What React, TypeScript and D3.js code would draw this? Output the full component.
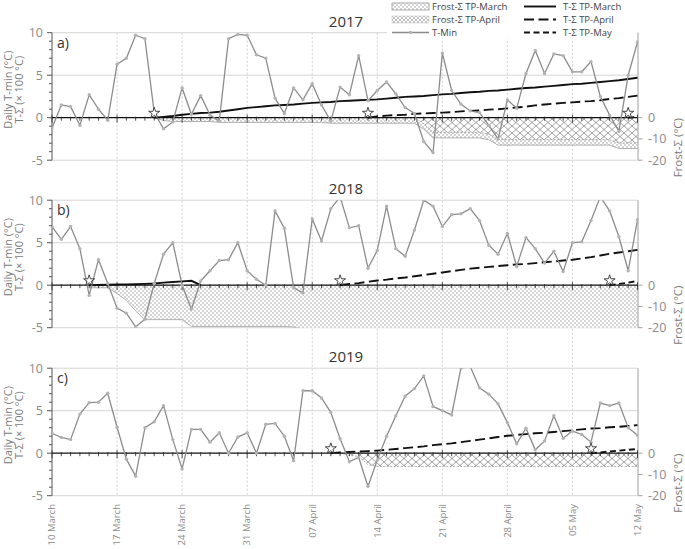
import React from 'react';
import * as d3 from 'd3';

// ---------- DATA ----------
const dateLabels = ['10 March', '17 March', '24 March', '31 March', '07 April', '14 April', '21 April', '28 April', '05 May', '12 May'];
const dateLabelDays = [0, 7, 14, 21, 28, 35, 42, 49, 56, 63];
const years = ['2017', '2018', '2019'];
const panelLetters = ['a)', 'b)', 'c)'];
const leftTicks = [10, 5, 0, -5];
const rightTicks = [0, -10, -20];

// Daily T-min (°C), 10 March .. 12 May (64 days)
const tmin2017 = [
  -1.2, 1.5, 1.3, -0.9, 2.7, 1.0, -0.3, 6.3, 7.0, 9.7,
  9.3, 0.6, -1.3, -0.5, 3.5, 0.4, 2.6, 0.3, -0.4, 9.3,
  9.8, 9.7, 7.4, 7.0, 2.3, 0.5, 3.5, 2.1, 4.0, 1.5,
  -0.4, 3.6, 2.7, 7.3, 2.0, 3.2, 4.2, 2.8, 1.2, 0.5,
  -2.8, -4.1, 7.6, 3.2, 1.6, 0.8, 0.6, -0.9, -2.5, 2.1,
  1.1, 5.2, 7.9, 5.2, 7.5, 7.3, 5.4, 5.4, 6.6, 2.5,
  0.3, -1.6, 5.0, 8.9,
];
const tmin2018 = [
  6.9, 5.4, 6.9, 4.3, -1.2, 3.0, 0.2, -2.7, -3.3, -4.9,
  -4.0, 0.2, 3.65, 5.0, 0.0, -2.8, 0.5, 1.7, 2.9, 3.0,
  5.0, 1.7, 0.7, 0.0, 8.75, 6.7, -0.3, -0.9, 7.8, 5.2,
  9.0, 10.4, 6.75, 7.0, 2.0, 4.1, 9.3, 4.3, 3.4, 6.5,
  10.0, 9.3, 6.9, 8.3, 8.4, 9.0, 7.6, 4.7, 3.65, 6.1,
  2.2, 5.6, 4.3, 2.6, 4.0, 1.6, 5.0, 5.1, 7.6, 10.4,
  8.75, 5.7, 1.7, 7.7,
];
const tmin2019 = [
  2.35, 1.85, 1.6, 4.6, 5.95, 6.0, 7.05, 3.05, -0.7, -2.7,
  3.0, 3.7, 5.6, 1.6, -1.85, 2.8, 2.8, 1.3, 2.4, 0.0,
  1.9, 2.4, 0.0, 3.4, 3.5, 2.0, -0.9, 7.35, 7.35, 6.5,
  4.8, 1.7, -1.0, -0.5, -3.9, -0.8, 2.0, 4.4, 6.7, 7.6,
  9.1, 5.5, 5.0, 4.5, 10.0, 10.2, 7.7, 6.95, 5.8, 3.6,
  1.1, 2.95, 0.4, 1.45, 4.4, 1.75, 2.6, 2.2, 1.3, 5.9,
  5.6, 5.9, 3.0, 2.1,
];

// Start day (index from 10 March) of each TP: [March, April, May]; -1 = none
const starts2017 = [11, 34, 62];
const starts2018 = [4, 31, 60];
const starts2019 = [-1, 30, 58];

// T-Σ (× 100 °C), from the TP start day onwards
const tsumMarch2017 = [
  0, 0.1, 0.2, 0.35, 0.45, 0.55, 0.6, 0.7, 0.85, 1.0,
  1.15, 1.25, 1.35, 1.45, 1.5, 1.55, 1.65, 1.75, 1.8, 1.85,
  1.95, 2.0, 2.05, 2.1, 2.15, 2.25, 2.35, 2.45, 2.5, 2.55,
  2.65, 2.75, 2.8, 2.9, 3.0, 3.05, 3.15, 3.2, 3.3, 3.4,
  3.5, 3.55, 3.65, 3.75, 3.85, 3.95, 4.0, 4.1, 4.2, 4.3,
  4.4, 4.55, 4.7,
];
const tsumApril2017 = [
  0, 0.15, 0.25, 0.3, 0.35, 0.45, 0.5, 0.55, 0.6, 0.65,
  0.75, 0.8, 0.85, 0.95, 1.0, 1.1, 1.2, 1.3, 1.45, 1.55,
  1.65, 1.75, 1.8, 1.9, 1.95, 2.05, 2.2, 2.3, 2.45, 2.6,
];
const tsumMay2017 = [0, 0.1];

const tsumMarch2018 = [0, 0.02, 0.05, 0.08, 0.1, 0.12, 0.15, 0.2, 0.3, 0.38, 0.45, 0.52, 0];
const tsumApril2018 = [
  0, 0.15, 0.25, 0.4, 0.55, 0.65, 0.8, 0.9, 1.05, 1.2,
  1.35, 1.5, 1.65, 1.8, 1.95, 2.05, 2.15, 2.25, 2.35, 2.45,
  2.5, 2.6, 2.7, 2.8, 2.9, 3.0, 3.15, 3.3, 3.5, 3.7,
  3.85, 4.0, 4.15,
];
const tsumMay2018 = [0, 0.15, 0.3, 0.5];

const tsumMarch2019: number[] = [];
const tsumApril2019 = [
  0, 0.1, 0.15, 0.2, 0.25, 0.3, 0.4, 0.5, 0.6, 0.7,
  0.8, 0.95, 1.05, 1.15, 1.3, 1.45, 1.6, 1.75, 1.9, 2.05,
  2.15, 2.25, 2.35, 2.4, 2.5, 2.6, 2.7, 2.8, 2.9, 2.95,
  3.05, 3.1, 3.2, 3.3,
];
const tsumMay2019 = [0, 0.1, 0.2, 0.3, 0.4, 0.5];

// Frost-Σ (°C), from the TP start day onwards
const frostMarch2017 = [
  0, -1.3, -1.8, -1.8, -1.8, -1.8, -1.8, -2.2, -2.2, -2.2,
  -2.2, -2.2, -2.2, -2.2, -2.2, -2.2, -2.2, -2.2, -2.2, -2.6,
  -2.6, -2.6, -2.6, -2.6, -2.6, -2.6, -2.6, -2.6, -2.6, -5.4,
  -9.5, -9.5, -9.5, -9.5, -9.5, -9.5, -10.4, -12.9, -12.9, -12.9,
  -12.9, -12.9, -12.9, -12.9, -12.9, -12.9, -12.9, -12.9, -12.9, -12.9,
  -14.5, -14.5, -14.5,
];
const frostApril2017 = [
  0, 0, 0, 0, 0, 0, -2.8, -6.9, -6.9, -6.9,
  -6.9, -6.9, -6.9, -7.8, -10.3, -10.3, -10.3, -10.3, -10.3, -10.3,
  -10.3, -10.3, -10.3, -10.3, -10.3, -10.3, -10.3, -11.9, -11.9, -11.9,
];
const frostMarch2018 = [
  -1.2, -1.2, -1.2, -3.9, -7.2, -12.1, -16.2, -16.2, -16.2, -16.2,
  -16.2, -19.4, -19.4, -19.4, -19.4, -19.4, -19.4, -19.4, -19.4, -19.4,
  -19.4, -19.4, -19.7, -20.6, -20.6, -20.6, -20.6, -20.6, -20.6, -20.6,
  -20.6, -20.6, -20.6, -20.6, -20.6, -20.6, -20.6, -20.6, -20.6, -20.6,
  -20.6, -20.6, -20.6, -20.6, -20.6, -20.6, -20.6, -20.6, -20.6, -20.6,
  -20.6, -20.6, -20.6, -20.6, -20.6, -20.6, -20.6, -20.6, -20.6, -20.6,
];
const frostApril2018: number[] = [];
const frostMarch2019: number[] = [];
const frostApril2019 = [
  0, 0, -1.0, -1.5, -5.4, -6.2, -6.2, -6.2, -6.2, -6.2,
  -6.2, -6.2, -6.2, -6.2, -6.2, -6.2, -6.2, -6.2, -6.2, -6.2,
  -6.2, -6.2, -6.2, -6.2, -6.2, -6.2, -6.2, -6.2, -6.2, -6.2,
  -6.2, -6.2, -6.2, -6.2,
];

const panels = [
  { tmin: tmin2017, starts: starts2017, tsum: [tsumMarch2017, tsumApril2017, tsumMay2017], frost: [frostMarch2017, frostApril2017] },
  { tmin: tmin2018, starts: starts2018, tsum: [tsumMarch2018, tsumApril2018, tsumMay2018], frost: [frostMarch2018, frostApril2018] },
  { tmin: tmin2019, starts: starts2019, tsum: [tsumMarch2019, tsumApril2019, tsumMay2019], frost: [frostMarch2019, frostApril2019] },
];

// ---------- LAYOUT ----------
const W = 685;
const H = 549;
const X0 = 52;
const X1 = 637.5;
const panelTops = [32.7, 200.2, 368.2];
const panelH = 127.5;
const FONT = '"Open Sans", "DejaVu Sans", sans-serif';
const x = d3.scaleLinear().domain([0, 63]).range([X0, X1]);
const dashes = ['none', '10,4.5', '6,3.5'];
const starPath = d3.symbol(d3.symbolStar, 38)() as string;

function Panel({ idx }: { idx: number }) {
  const p = panels[idx];
  const top = panelTops[idx];
  const bottom = top + panelH;
  const y = d3.scaleLinear().domain([-5, 10]).range([bottom, top]);
  const yr = d3.scaleLinear().domain([-20, 40]).range([bottom, top]);
  const y0 = y(0);
  const clipId = `clip${idx}`;

  const tminLine = d3.line<number>().x((_, i) => x(i)).y((v) => y(v))(p.tmin) as string;

  const frostArea = (vals: number[], start: number) =>
    d3.area<number>().x((_, i) => x(start + i)).y0(yr(0)).y1((v) => yr(v))(vals) as string;
  const frostEdge = (vals: number[], start: number) =>
    d3.line<number>().x((_, i) => x(start + i)).y((v) => yr(v))(vals) as string;
  const sumLine = (vals: number[], start: number) =>
    d3.line<number>().x((_, i) => x(start + i)).y((v) => y(v))(vals) as string;

  const days = d3.range(0, 64);
  const minor = d3.range(-5, 11);

  return (
    <g>
      <clipPath id={clipId}>
        <rect x={X0} y={top} width={X1 - X0 + 1} height={panelH} />
      </clipPath>
      {[10, 5, -5].map((v) => (
        <line key={v} x1={X0} x2={X1} y1={y(v)} y2={y(v)} stroke="#d6d6d6" strokeWidth={1} />
      ))}
      <g clipPath={`url(#${clipId})`}>
        {p.frost[0].length > 0 && (
          <g>
            <path d={frostArea(p.frost[0], p.starts[0])} fill="url(#dots)" />
            <path d={frostEdge(p.frost[0], p.starts[0])} fill="none" stroke="#a8a8a8" strokeWidth={0.9} />
          </g>
        )}
        {p.frost[1].length > 0 && (
          <g>
            <path d={frostArea(p.frost[1], p.starts[1])} fill="url(#cross)" />
            <path d={frostEdge(p.frost[1], p.starts[1])} fill="none" stroke="#999" strokeWidth={0.8} strokeDasharray="2,1.5" />
          </g>
        )}
      </g>
      <text x={346} y={top - 6} textAnchor="middle" fontSize={15} fontWeight={400} fill="#333" fontFamily={FONT}>{years[idx]}</text>
      <text x={57} y={top + 15} fontSize={14} fill="#333" fontFamily={FONT}>{panelLetters[idx]}</text>
      <line x1={X0} x2={X0} y1={top} y2={bottom} stroke="#555" strokeWidth={1} />
      {minor.map((v) => (
        <line key={v} x1={X0 - (v % 5 === 0 ? 5 : 3)} x2={X0} y1={y(v)} y2={y(v)} stroke="#555" strokeWidth={1} />
      ))}
      {leftTicks.map((v) => (
        <text key={v} x={43} y={y(v)} dy="0.35em" textAnchor="end" fontSize={12.5} fill="#8a8a8a" fontFamily={FONT}>{v}</text>
      ))}
      <line x1={X1 + 0.5} x2={X1 + 0.5} y1={top} y2={bottom} stroke="#a0a0a0" strokeWidth={1} />
      {rightTicks.map((v) => (
        <g key={v}>
          <line x1={X1 + 0.5} x2={X1 + 5} y1={yr(v)} y2={yr(v)} stroke="#a0a0a0" strokeWidth={1} />
          <text x={648} y={yr(v)} dy="0.35em" fontSize={12.5} fill="#8a8a8a" fontFamily={FONT}>{v}</text>
        </g>
      ))}
      <text transform={`translate(8.5,${y(3.3)}) rotate(-90)`} dy="0.35em" textAnchor="middle" fontSize={11} fill="#7a7a7a" fontFamily={FONT}>Daily T-min (°C)</text>
      <text transform={`translate(19.5,${y(3.3)}) rotate(-90)`} dy="0.35em" textAnchor="middle" fontSize={11} fill="#7a7a7a" fontFamily={FONT}>T-Σ (× 100 °C)</text>
      <text transform={`translate(678,${y0 + 30}) rotate(-90)`} dy="0.35em" textAnchor="middle" fontSize={11.5} fill="#7a7a7a" fontFamily={FONT}>Frost-Σ (°C)</text>
      <line x1={X0} x2={X1} y1={y0} y2={y0} stroke="#111" strokeWidth={1.3} />
      {days.map((d) => (
        <line key={d} x1={x(d)} x2={x(d)} y1={d % 7 === 0 ? y0 - 3 : y0 - 1} y2={d % 7 === 0 ? y0 + 5 : y0 + 3} stroke="#222" strokeWidth={0.8} />
      ))}
      <g clipPath={`url(#${clipId})`}>
        {p.tsum.map((vals, k) =>
          vals.length > 0 ? (
            <path key={k} d={sumLine(vals, p.starts[k])} fill="none" stroke="#111" strokeWidth={1.9} strokeDasharray={dashes[k]} />
          ) : null
        )}
        <path d={tminLine} fill="none" stroke="#8c8c8c" strokeWidth={1.3} />
        {p.tmin.map((v, i) => (
          <circle key={i} cx={x(i)} cy={y(v)} r={1.7} fill="#b3b3b3" />
        ))}
      </g>
      {p.starts.map((s, k) =>
        s >= 0 ? (
          <path key={k} d={starPath} transform={`translate(${x(s)},${y0 - 4.6})`} fill="#fff" stroke="#333" strokeWidth={0.9} />
        ) : null
      )}
    </g>
  );
}

export default function App() {
  const legendLeft = ['Frost-Σ TP-March', 'Frost-Σ TP-April', 'T-Min'];
  const legendRight = ['T-Σ TP-March', 'T-Σ TP-April', 'T-Σ TP-May'];
  const rowY = [6.5, 19.5, 32.5];
  const bottomPanel = panelTops[2] + panelH;
  return (
    <svg width={W} height={H} style={{ position: 'absolute', left: 0, top: 0, background: '#fff' }}>
      <defs>
        <pattern id="dots" width={4} height={4} patternUnits="userSpaceOnUse">
          <rect width={4} height={4} fill="#fff" />
          <circle cx={1} cy={1} r={0.65} fill="#888" />
          <circle cx={3} cy={3} r={0.65} fill="#888" />
        </pattern>
        <pattern id="cross" width={8} height={7} patternUnits="userSpaceOnUse">
          <rect width={8} height={7} fill="#fff" />
          <path d="M0,0 L8,7 M8,0 L0,7" stroke="#8a8a8a" strokeWidth={0.8} />
        </pattern>
        <pattern id="crossSmall" width={4} height={4} patternUnits="userSpaceOnUse">
          <rect width={4} height={4} fill="#fff" />
          <path d="M0,0 L4,4 M4,0 L0,4" stroke="#999" strokeWidth={0.6} />
        </pattern>
      </defs>
      {dateLabelDays.slice(1, -1).map((d) => (
        <line key={d} x1={x(d)} x2={x(d)} y1={panelTops[0]} y2={bottomPanel} stroke="#c4c4c4" strokeWidth={0.8} strokeDasharray="2,2" />
      ))}
      {panels.map((_, i) => (
        <Panel key={i} idx={i} />
      ))}
      {dateLabels.map((lab, i) => (
        <text key={lab} transform={`translate(${x(dateLabelDays[i])},504) rotate(-90)`} dy="0.35em" textAnchor="end" fontSize={9.5} fill="#8a8a8a" fontFamily={FONT}>{lab}</text>
      ))}
      <rect x={387} y={0} width={250} height={38} fill="#fff" />
      <rect x={392} y={rowY[0] - 3.5} width={37} height={7} fill="url(#dots)" stroke="#999" strokeWidth={0.8} />
      <rect x={392} y={rowY[1] - 3.5} width={37} height={7} fill="url(#crossSmall)" stroke="#bbb" strokeWidth={0.5} />
      <line x1={392} x2={429} y1={rowY[2]} y2={rowY[2]} stroke="#8c8c8c" strokeWidth={1.3} />
      <circle cx={410.5} cy={rowY[2]} r={1.7} fill="#b3b3b3" />
      {legendLeft.map((t, i) => (
        <text key={t} x={432} y={rowY[i]} dy="0.35em" fontSize={9.5} fill="#444" fontFamily={FONT}>{t}</text>
      ))}
      {legendRight.map((t, i) => (
        <g key={t}>
          <line x1={524} x2={556} y1={rowY[i]} y2={rowY[i]} stroke="#111" strokeWidth={1.9} strokeDasharray={dashes[i]} />
          <text x={563} y={rowY[i]} dy="0.35em" fontSize={9.5} fill="#444" fontFamily={FONT}>{t}</text>
        </g>
      ))}
    </svg>
  );
}
